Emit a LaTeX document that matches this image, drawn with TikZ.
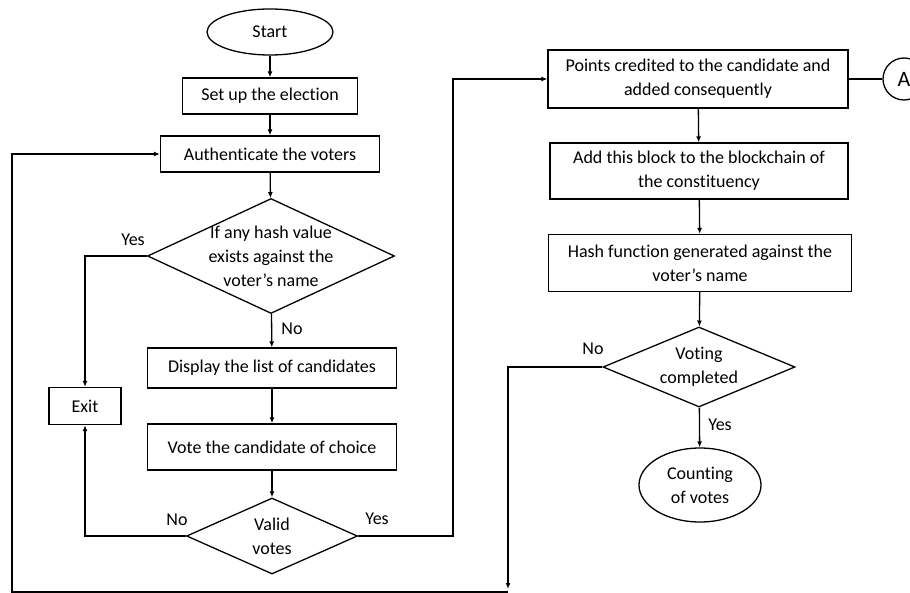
\documentclass[tikz,border=0pt]{standalone}
\usepackage{fontspec}
\setmainfont{Carlito}[Ligatures=NoCommon]
\usetikzlibrary{shapes.geometric,arrows.meta}
\begin{document}
\begin{tikzpicture}[x=1pt,y=-1pt,
  every node/.style={font=\fontsize{18}{24}\selectfont},
  box/.style={draw,line width=1.3pt,rectangle,inner sep=0pt,align=center},
  ell/.style={draw,line width=1.3pt,ellipse,inner sep=0pt,align=center},
  dia/.style={draw,line width=1.3pt,diamond,inner sep=0pt},
  arr/.style={line width=1.3pt,-{Latex[length=6pt,width=5pt]}},
  ln/.style={line width=1.3pt}]
\useasboundingbox (0,0) rectangle (910,593);
% left column
\node[ell,minimum width=126,minimum height=46] (start) at (270,32) {Start};
\node[box,minimum width=175,minimum height=36] (setup) at (270,96) {Set up the election};
\node[box,minimum width=219,minimum height=36] (auth) at (270,154) {Authenticate the voters};
\node[dia,minimum width=247,minimum height=115,label={[align=center]center:If any hash value\\exists against the\\voter’s name}] (d1) at (271,256) {};
\node[box,minimum width=249,minimum height=40] (disp) at (272,368) {Display the list of candidates};
\node[box,minimum width=249,minimum height=46] (vote) at (272,447) {Vote the candidate of choice};
\node[dia,minimum width=171,minimum height=76,label={[align=center]center:Valid\\votes}] (d2) at (272,536) {};
\node[box,minimum width=72,minimum height=37] (exit) at (85,406) {Exit};
% right column
\node[box,minimum width=300,minimum height=58] (points) at (698,79) {Points credited to the candidate and\\added consequently};
\node[draw,line width=1.3pt,circle,minimum size=42,inner sep=0pt,font=\fontsize{22}{24}\selectfont] (A) at (904,79) {A};
\node[box,minimum width=298,minimum height=56] (addb) at (699,171) {Add this block to the blockchain of\\the constituency};
\node[box,minimum width=303,minimum height=57] (hash) at (700,263) {Hash function generated against the\\voter’s name};
\node[dia,minimum width=192,minimum height=80,label={[align=center]center:Voting\\completed}] (d3) at (699,367) {};
\node[ell,minimum width=122,minimum height=74] (count) at (700,485) {Counting\\of votes};
% labels
\node (lyes1) at (133,240) {Yes};
\node (lno1) at (292,329) {No};
\node (lno2) at (177,520) {No};
\node (lyes2) at (377,519) {Yes};
\node (lno3) at (593,349) {No};
\node (lyes3) at (720,425) {Yes};
% coordinates
\coordinate (c1) at (453,536);
\coordinate (c2) at (508,589);
\coordinate (c3) at (508,592);
\coordinate (c4) at (12,592);
% connectors
\draw[arr] (start) -- (setup);
\draw[arr] (setup) -- (auth);
\draw[arr] (auth) -- (d1);
\draw[arr] (d1) -- (disp);
\draw[arr] (disp) -- (vote);
\draw[arr] (vote) -- (d2);
\draw[arr] (d1.west) -| (exit.north);
\draw[arr] (d2.west) -| (exit.south);
\draw[arr] (d2.east) -- (c1) |- (points.west);
\draw[ln] (points.east) -- (A.west);
\draw[arr] (points) -- (addb);
\draw[arr] (addb) -- (hash);
\draw[arr] (hash) -- (d3);
\draw[arr] (d3) -- (count);
\draw[arr] (d3.west) -| (c2);
\draw[arr] (c3) -- (c4) |- (auth.west);
\end{tikzpicture}
\end{document}
